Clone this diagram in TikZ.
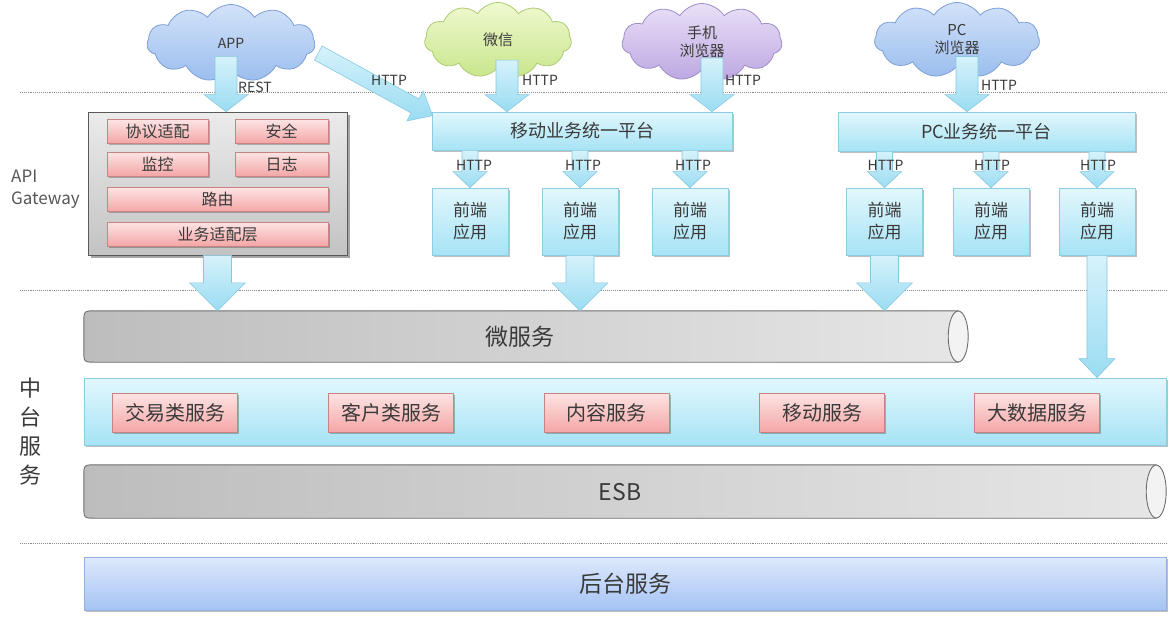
\documentclass[tikz,border=0pt]{standalone}
\usepackage{fontspec}
\setmainfont{Noto Sans CJK SC}
\usetikzlibrary{shapes.symbols,shadows,calc}
\definecolor{txtc}{HTML}{3A3A3A}
\definecolor{cyantop}{HTML}{E2F7FD}
\definecolor{cyanbot}{HTML}{A6E3F5}
\definecolor{cyanborder}{HTML}{8CCDE3}
\definecolor{arrowtop}{HTML}{D6F2FB}
\definecolor{arrowbot}{HTML}{9ADCF2}
\definecolor{arrowborder}{HTML}{86C8E0}
\definecolor{redtop}{HTML}{FDE4E4}
\definecolor{redbot}{HTML}{F4A6A6}
\definecolor{redborder}{HTML}{C98383}
\definecolor{graytop}{HTML}{EBEBEB}
\definecolor{graybot}{HTML}{C3C3C3}
\definecolor{grayborder}{HTML}{5A5A5A}
\definecolor{bluetop}{HTML}{DEE9FC}
\definecolor{bluebot}{HTML}{A5C3F4}
\definecolor{blueborder}{HTML}{93B1DD}
\definecolor{cbtop}{HTML}{D2E2F9}
\definecolor{cbbot}{HTML}{9BBEEE}
\definecolor{cbborder}{HTML}{7D9FD6}
\definecolor{cgtop}{HTML}{EFF9CF}
\definecolor{cgbot}{HTML}{C9E68C}
\definecolor{cgborder}{HTML}{ADCB72}
\definecolor{cptop}{HTML}{EAE0F7}
\definecolor{cpbot}{HTML}{BCA8E2}
\definecolor{cpborder}{HTML}{9F8CC9}
\definecolor{cylleft}{HTML}{BDBDBD}
\definecolor{cylright}{HTML}{E6E6E6}
\definecolor{cylborder}{HTML}{6E6E6E}
\definecolor{cylend}{HTML}{F3F3F3}
\definecolor{dashc}{HTML}{8A8A8A}

% block arrow: [opts]{from}{to}{shaft half width}{head half width}{head length}
\newcommand\blockarr[6][]{%
  \coordinate (baS) at (#2);
  \coordinate (baT) at (#3);
  \coordinate (baB) at ($(baT)!#6pt!(baS)$);
  \path[blockarrow,#1] ($(baS)!#4pt!90:(baT)$) -- ($(baB)!#4pt!90:(baT)$) -- ($(baB)!#5pt!90:(baT)$) -- (baT)
     -- ($(baB)!#5pt!-90:(baT)$) -- ($(baB)!#4pt!-90:(baT)$) -- ($(baS)!#4pt!-90:(baT)$) -- cycle;
}
% horizontal cylinder drawn round an empty node: {node}{half height}
\newcommand\drawcyl[2]{%
  \draw[cylbody] ($(#1.north east)+(-10,0)$) -- ($(#1.north west)+(12,0)$) .. controls (#1.north west) .. ($(#1.north west)+(0,12)$)
     -- ($(#1.south west)+(0,-12)$) .. controls (#1.south west) .. ($(#1.south west)+(12,0)$) -- ($(#1.south east)+(-10,0)$) -- cycle;
  \draw[cylendst] ($(#1.east)+(-10,0)$) ellipse [x radius=10pt, y radius=#2pt];
}

\begin{document}
\begin{tikzpicture}[x=1pt,y=-1pt,
  shad/.style={drop shadow={shadow xshift=1.5pt, shadow yshift=-1.5pt, opacity=.25, fill=black}},
  boxbase/.style={draw, inner sep=0pt, line width=0.8pt, text=txtc},
  redbox/.style={boxbase, draw=redborder, top color=redtop, bottom color=redbot, shad},
  cyanbox/.style={boxbase, draw=cyanborder, top color=cyantop, bottom color=cyanbot, shad},
  graybox/.style={boxbase, draw=grayborder, top color=graytop, bottom color=graybot,
     drop shadow={shadow xshift=3pt, shadow yshift=-3pt, opacity=.35, fill=black}},
  bluebar/.style={boxbase, draw=blueborder, top color=bluetop, bottom color=bluebot, shad},
  cloudbase/.style={cloud, cloud puffs=11, cloud puff arc=115, aspect=2.1, inner sep=0pt,
     line width=0.8pt, text=txtc, align=center, font=\fontsize{15}{18}\selectfont},
  bluecloud/.style={cloudbase, draw=cbborder, top color=cbtop, bottom color=cbbot},
  greencloud/.style={cloudbase, draw=cgborder, top color=cgtop, bottom color=cgbot},
  purplecloud/.style={cloudbase, draw=cpborder, top color=cptop, bottom color=cpbot},
  blockarrow/.style={draw=arrowborder, line width=0.6pt, top color=arrowtop, bottom color=arrowbot},
  lbl/.style={font=\fontsize{14}{16}\selectfont, text=txtc, inner sep=0pt},
  dashline/.style={draw=dashc, densely dotted, line width=0.9pt},
  cylbody/.style={draw=cylborder, line width=0.9pt, left color=cylleft, right color=cylright},
  cylendst/.style={draw=cylborder, line width=0.9pt, fill=cylend},
  frontbox/.style={cyanbox, minimum width=76, minimum height=67, align=center, font=\fontsize{17}{22}\selectfont},
  gwred/.style={redbox, minimum height=24, font=\fontsize{16}{18}\selectfont},
  ztred/.style={redbox, minimum width=125, minimum height=39, font=\fontsize{20}{22}\selectfont},
  bigtxt/.style={text=txtc, inner sep=0pt, font=\fontsize{23}{26}\selectfont}
]
\useasboundingbox (0,0) rectangle (1174,616);
\fill[white] (0,0) rectangle (1174,616);

% dotted separators
\coordinate (d1l) at (20,92);  \coordinate (d1r) at (1167,92);
\coordinate (d2l) at (20,290); \coordinate (d2r) at (1167,290);
\coordinate (d3l) at (20,543); \coordinate (d3r) at (1167,543);
\draw[dashline] (d1l) -- (d1r);
\draw[dashline] (d2l) -- (d2r);
\draw[dashline] (d3l) -- (d3r);

% clouds
\node[bluecloud, minimum width=168, minimum height=77, font=\fontsize{14}{16}\selectfont] (app) at (231,43) {APP};
\node[greencloud, minimum width=147, minimum height=75] (wx) at (498,40) {微信};
\node[purplecloud, minimum width=160, minimum height=77] (sj) at (702,42) {手机\\浏览器};
\node[bluecloud, minimum width=165, minimum height=75] (pcb) at (957,40) {PC\\浏览器};

% API gateway
\node[graybox, minimum width=259, minimum height=143] (gw) at (217.5,183.5) {};
\node[gwred, minimum width=101] (xy) at (157.5,131.5) {协议适配};
\node[gwred, minimum width=93]  (aq) at (281.5,131.5) {安全};
\node[gwred, minimum width=101] (jk) at (157.5,164) {监控};
\node[gwred, minimum width=93]  (rz) at (281.5,164) {日志};
\node[gwred, minimum width=221] (ly) at (217.5,199.5) {路由};
\node[gwred, minimum width=221] (yw) at (217.5,234) {业务适配层};
\node[anchor=west, align=left, inner sep=0pt, text=txtc!85, font=\fontsize{17}{22}\selectfont] (apigw) at (11,189) {API\\Gateway};

% platforms
\node[cyanbox, minimum width=300, minimum height=38, font=\fontsize{18}{20}\selectfont] (mp) at (582,131) {移动业务统一平台};
\node[cyanbox, minimum width=297, minimum height=39, font=\fontsize{18}{20}\selectfont] (pp) at (986.5,131.5) {PC业务统一平台};

% front-end apps
\node[frontbox] (m1) at (470,221.5) {前端\\应用};
\node[frontbox] (m2) at (580,221.5) {前端\\应用};
\node[frontbox] (m3) at (690,221.5) {前端\\应用};
\node[frontbox] (p1) at (884.5,221.5) {前端\\应用};
\node[frontbox] (p2) at (991,221.5) {前端\\应用};
\node[frontbox] (p3) at (1097,221.5) {前端\\应用};

% micro services cylinder
\node[inner sep=0pt, minimum width=884, minimum height=51] (ms) at (526,336.5) {};
\drawcyl{ms}{25.5}
\node[bigtxt] (mslbl) at (520,337) {微服务};

% middle platform
\node[cyanbox, minimum width=1082, minimum height=67] (zt) at (625,411.5) {};
\node[ztred] (s1) at (175,412.5) {交易类服务};
\node[ztred] (s2) at (391,412.5) {客户类服务};
\node[ztred] (s3) at (606.5,412.5) {内容服务};
\node[ztred] (s4) at (822,412.5) {移动服务};
\node[ztred] (s5) at (1037,412.5) {大数据服务};
\node[align=center, inner sep=0pt, text=txtc, font=\fontsize{22}{29}\selectfont] (ztlbl) at (30,431.5) {中\\台\\服\\务};

% ESB cylinder
\node[inner sep=0pt, minimum width=1082, minimum height=53] (esb) at (625,491.5) {};
\drawcyl{esb}{26.5}
\node[bigtxt] (esblbl) at (620,492) {ESB};

% back-end
\node[bluebar, minimum width=1082, minimum height=53, font=\fontsize{23}{26}\selectfont] (ht) at (625,583.5) {后台服务};

% arrows from clients
\coordinate (appout) at ($(app.south)+(-5,-14)$);
\coordinate (wxout) at ($(wx.south)+(9,-8)$);
\coordinate (sjout) at ($(sj.south)+(10,-12)$);
\coordinate (pcout) at ($(pcb.south)+(10,-10)$);
\coordinate (appdiag) at ($(app.east)+(3,10)$);
\coordinate (mpin) at ($(mp.north west)+(1,4)$);
\blockarr{appout}{appout|-gw.north}{11}{22}{17}
\blockarr{wxout}{wxout|-mp.north}{11}{22}{17}
\blockarr{sjout}{sjout|-mp.north}{11}{22}{17}
\blockarr{pcout}{pcout|-pp.north}{11}{22}{17}
\blockarr{appdiag}{mpin}{8}{17}{20}

% arrows platform -> front-end
\blockarr{m1.north|-mp.south}{m1.north}{8}{17}{16}
\blockarr{m2.north|-mp.south}{m2.north}{8}{17}{16}
\blockarr{m3.north|-mp.south}{m3.north}{8}{17}{16}
\blockarr{p1.north|-pp.south}{p1.north}{8}{17}{16}
\blockarr{p2.north|-pp.south}{p2.north}{8}{17}{16}
\blockarr{p3.north|-pp.south}{p3.north}{8}{17}{16}

% arrows down to the services
\blockarr{gw.south}{gw.south|-ms.north}{14}{28}{28}
\blockarr{m2.south}{m2.south|-ms.north}{14}{28}{28}
\blockarr{p1.south}{p1.south|-ms.north}{14}{28}{28}
\blockarr{p3.south}{p3.south|-zt.north}{10}{18}{19}

% protocol labels
\node[lbl] (l1) at (255,87) {REST};
\node[lbl] (l2) at (389,80) {HTTP};
\node[lbl] (l3) at (540,80) {HTTP};
\node[lbl] (l4) at (743,80) {HTTP};
\node[lbl] (l5) at (999,85) {HTTP};
\node[lbl] (h1) at ($(m1.north)+(4,-22)$) {HTTP};
\node[lbl] (h2) at ($(m2.north)+(3,-22)$) {HTTP};
\node[lbl] (h3) at ($(m3.north)+(3,-22)$) {HTTP};
\node[lbl] (h4) at ($(p1.north)+(1,-22)$) {HTTP};
\node[lbl] (h5) at ($(p2.north)+(1,-22)$) {HTTP};
\node[lbl] (h6) at ($(p3.north)+(1,-22)$) {HTTP};
\end{tikzpicture}
\end{document}
